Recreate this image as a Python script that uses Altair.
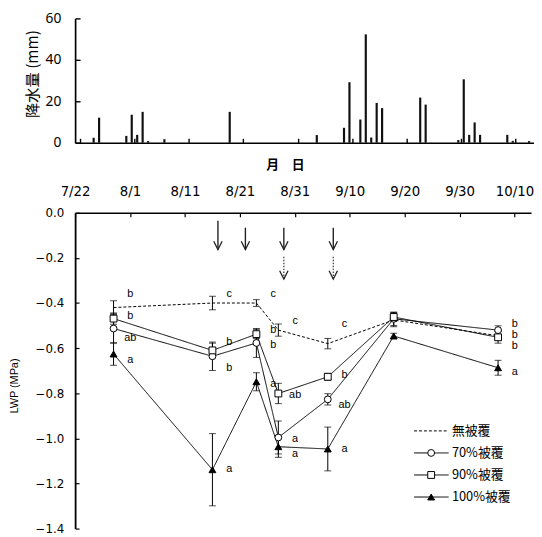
import altair as alt
import pandas as pd

YEAR = 2010


def to_day(md):
    m, d = (int(v) for v in md.split("/"))
    return (pd.Timestamp(YEAR, m, d) - pd.Timestamp(YEAR, 7, 22)).days


# ---------------- precipitation (top panel) ----------------
rain_dates = ["7/24", "7/25", "7/30", "7/31", "8/1", "8/2", "8/3", "8/6", "8/18",
              "9/3", "9/8", "9/9", "9/11", "9/12", "9/13", "9/14", "9/15",
              "9/22", "9/23", "9/29", "9/30", "10/1", "10/2", "10/3",
              "10/8", "10/9", "10/12"]
rain_mm = [2.4, 12.1, 3.3, 13.5, 3.8, 14.9, 0.8, 1.7, 14.9,
           3.7, 7.2, 29.2, 11.2, 52.3, 2.5, 19.2, 16.7,
           21.8, 18.4, 1.3, 30.6, 3.8, 9.8, 3.8,
           3.8, 0.9, 0.8]
rain_ticks = [0, 20, 40, 60]

# ---------------- date axis ----------------
tick_dates = ["7/22", "8/1", "8/11", "8/21", "8/31", "9/10", "9/20", "9/30", "10/10"]

# ---------------- leaf water potential (bottom panel) ----------------
lwp_dates = ["7/29", "8/16", "8/24", "8/28", "9/6", "9/18", "10/7"]
series = ["無被覆", "70%被覆", "90%被覆", "100%被覆"]
lwp_mean = {
    "無被覆": [-0.42, -0.40, -0.40, -0.52, -0.58, -0.475, -0.545],
    "70%被覆": [-0.513, -0.636, -0.577, -0.996, -0.827, -0.470, -0.520],
    "90%被覆": [-0.469, -0.610, -0.538, -0.801, -0.727, -0.462, -0.552],
    "100%被覆": [-0.626, -1.139, -0.749, -1.037, -1.047, -0.546, -0.687],
}
lwp_err = {
    "無被覆": [0.03, 0.03, 0.015, 0.027, 0.023, 0.03, 0.02],
    "70%被覆": [0.065, 0.063, 0.064, 0.073, 0.025, 0.03, 0.019],
    "90%被覆": [0.025, 0.032, 0.02, 0.045, 0.015, 0.02, 0.026],
    "100%被覆": [0.05, 0.16, 0.04, 0.047, 0.097, 0.012, 0.033],
}
lwp_ticks = [0.0, -0.2, -0.4, -0.6, -0.8, -1.0, -1.2, -1.4]

# significance letters
letter_dates = ["7/29"] * 4 + ["8/16"] * 4 + ["8/24"] * 4 + ["8/28"] * 4 + ["9/6"] * 4 + ["10/7"] * 4
letter_vals = [-0.360, -0.457, -0.556, -0.654,
               -0.360, -0.574, -0.687, -1.136,
               -0.360, -0.520, -0.588, -0.757,
               -0.481, -0.806, -1.001, -1.071,
               -0.494, -0.719, -0.851, -1.047,
               -0.491, -0.542, -0.590, -0.706]
letter_text = ["b", "b", "ab", "a",
               "c", "b", "b", "a",
               "c", "b", "b", "a",
               "c", "ab", "a", "a",
               "c", "b", "ab", "a",
               "b", "b", "b", "a"]

# arrows
arrow_dates = ["8/17", "8/22", "8/29", "9/7", "8/29", "9/7"]
arrow_top = [-0.035, -0.066, -0.066, -0.066, -0.195, -0.195]
arrow_bottom = [-0.163, -0.163, -0.163, -0.163, -0.294, -0.294]
arrow_kind = ["solid", "solid", "solid", "solid", "dotted", "dotted"]

# ---------------- data frames ----------------
rain_df = pd.DataFrame({"date": rain_dates, "mm": rain_mm})
rain_df["day"] = rain_df["date"].map(to_day)
tick_days = [to_day(t) for t in tick_dates]

rows = []
for s in series:
    for d, m, e in zip(lwp_dates, lwp_mean[s], lwp_err[s]):
        rows.append({"series": s, "date": d, "day": to_day(d), "lwp": m, "err": e})
lwp_df = pd.DataFrame(rows)

letters_df = pd.DataFrame({"date": letter_dates, "val": letter_vals, "txt": letter_text})
letters_df["day"] = letters_df["date"].map(to_day)

arrows_df = pd.DataFrame({"date": arrow_dates, "top": arrow_top, "bottom": arrow_bottom, "kind": arrow_kind})
arrows_df["day"] = arrows_df["date"].map(to_day)

legend_df = pd.DataFrame({"series": series})

# ---------------- top panel ----------------
top = alt.Chart(rain_df).transform_calculate(mid="datum.day + 0.5").mark_bar(
    color="#111111", width=2.2
).encode(
    x=alt.X("mid:Q", scale=alt.Scale(domain=[0, 82.5], nice=False, zero=False),
            axis=alt.Axis(values=tick_days, labels=False, title=None, grid=False,
                          tickSize={"expr": "-4.5"}, tickWidth=1.4, domainWidth=1.7)),
    y=alt.Y("mm:Q", scale=alt.Scale(domain=[0, 60], nice=False),
            axis=alt.Axis(values=rain_ticks, grid=False, tickSize={"expr": "-5"}, tickWidth=1.4,
                          domainWidth=1.7, labelPadding=19.5, labelFont="Noto Sans",
                          labelFontSize=14, title="降水量 (mm)", titleFont="Noto Sans CJK JP",
                          titleFontSize=15.5, titleFontWeight="normal", titleX=-42.6, titleY=56,
                          titleAngle=270, titleAlign="center", titleBaseline="middle")),
).properties(width=465, height=126)

# ---------------- bottom panel ----------------
xs = alt.Scale(domain=[0, 83], nice=False, zero=False)
ys = alt.Scale(domain=[-1.4, 0], nice=False)
x_axis = alt.Axis(orient="top", values=tick_days,
                  labelExpr="timeFormat(datetime(2010, 6, 22 + datum.value), '%-m/%-d')",
                  tickSize={"expr": "-4"}, tickWidth=1.2, domainWidth=1.5,
                  labelPadding=26, labelBaseline="middle", labelFont="DejaVu Sans",
                  labelFontSize=13.5, labelFlush=False, labelOverlap=False, grid=False,
                  title="月　日", titleFont="Noto Sans CJK JP", titleFontSize=13,
                  titleFontWeight="bold", titleX=212.6, titleY=-49, titleAlign="center",
                  titleBaseline="middle")
y_axis = alt.Axis(values=lwp_ticks, format=".1f", tickSize={"expr": "-4"}, tickWidth=1.2,
                  domainWidth=1.8, labelPadding=15.5, labelFont="DejaVu Sans", labelFontSize=12,
                  labelFlush=False, grid=False, title="LWP (MPa)", titleFont="Liberation Sans",
                  titleFontSize=11, titleFontWeight="normal", titleX=-61.5, titleY=175,
                  titleAngle=270, titleAlign="center", titleBaseline="middle")

X = alt.X("day:Q", scale=xs, axis=x_axis)
dash_scale = alt.Scale(domain=series, range=[[3, 2], [1, 0], [1, 0], [1, 0]])
marker_series = series[1:]
shape_scale = alt.Scale(domain=marker_series, range=["circle", "square", "triangle-up"])
fill_scale = alt.Scale(domain=marker_series, range=["white", "white", "black"])

base = alt.Chart(lwp_df).transform_calculate(lo="datum.lwp - datum.err", hi="datum.lwp + datum.err")

err_rule = base.mark_rule(color="black", strokeWidth=1).encode(
    x=X, y=alt.Y("lo:Q", scale=ys, axis=y_axis), y2="hi:Q")

err_caps = base.transform_fold(["lo", "hi"], as_=["end", "v"]).mark_tick(
    color="black", orient="horizontal", size=7, thickness=1).encode(
    x=X, y=alt.Y("v:Q", scale=ys, axis=y_axis))

lines = base.mark_line(color="black", strokeWidth=1).encode(
    x=X, y=alt.Y("lwp:Q", scale=ys, axis=y_axis), detail="series:N",
    strokeDash=alt.StrokeDash("series:N", scale=dash_scale, legend=None))

points = base.transform_filter(alt.FieldOneOfPredicate(field="series", oneOf=marker_series)).mark_point(
    filled=True, stroke="black", strokeWidth=1, size=48, opacity=1).encode(
    x=X, y=alt.Y("lwp:Q", scale=ys, axis=y_axis),
    shape=alt.Shape("series:N", scale=shape_scale, legend=None),
    fill=alt.Fill("series:N", scale=fill_scale, legend=None))

letters = alt.Chart(letters_df).mark_text(
    align="center", baseline="middle", dx=17, font="Liberation Sans", fontSize=11, fill="black"
).encode(x=X, y=alt.Y("val:Q", scale=ys, axis=y_axis), text="txt:N")

arrow_base = alt.Chart(arrows_df)
shaft_solid = arrow_base.transform_filter("datum.kind == 'solid'").mark_rule(
    color="#222222", strokeWidth=1.4).encode(
    x=X, y=alt.Y("top:Q", scale=ys, axis=y_axis), y2="bottom:Q")
shaft_dot = arrow_base.transform_filter("datum.kind == 'dotted'").mark_rule(
    color="#333333", strokeWidth=1.2, strokeDash=[1.5, 1.5]).encode(
    x=X, y=alt.Y("top:Q", scale=ys, axis=y_axis), y2="bottom:Q")
heads = arrow_base.mark_point(shape="M-1,-2L0,0L1,-2", size=72, filled=False,
                              color="#222222", strokeWidth=1.3, opacity=1).encode(
    x=X, y=alt.Y("bottom:Q", scale=ys, axis=y_axis))

main = alt.layer(err_rule, err_caps, lines, points, letters, shaft_solid, shaft_dot, heads)

leg_y = alt.Y("series:N", scale=alt.Scale(type="point", domain=series, range=[221, 288], padding=0),
              axis=None)
leg_line = alt.Chart(legend_df).mark_rule(color="black", strokeWidth=1).encode(
    x=alt.value(343.5), x2=alt.value(378.5), y=leg_y,
    strokeDash=alt.StrokeDash("series:N", scale=dash_scale, legend=None))
leg_pts = alt.Chart(legend_df).transform_filter(
    alt.FieldOneOfPredicate(field="series", oneOf=marker_series)).mark_point(
    filled=True, stroke="black", strokeWidth=1, size=48, opacity=1).encode(
    x=alt.value(360.8), y=leg_y,
    shape=alt.Shape("series:N", scale=shape_scale, legend=None),
    fill=alt.Fill("series:N", scale=fill_scale, legend=None))
leg_txt = alt.Chart(legend_df).mark_text(
    align="left", baseline="middle", font="Noto Sans CJK JP", fontSize=13, fill="black"
).encode(x=alt.value(381.8), y=leg_y, text="series:N")
legend = alt.layer(leg_line, leg_pts, leg_txt)

bottom = alt.layer(main, legend).resolve_scale(y="independent").properties(width=462, height=320)

chart = alt.vconcat(top, bottom, spacing=9).properties(
    padding={"top": 0, "left": 0, "right": 0, "bottom": 0}
).configure_view(strokeWidth=0).configure_axis(
    domainColor="black", tickColor="black", labelColor="black", titleColor="black")

chart.save("out.html", embed_options={"renderer": "svg", "actions": False})
